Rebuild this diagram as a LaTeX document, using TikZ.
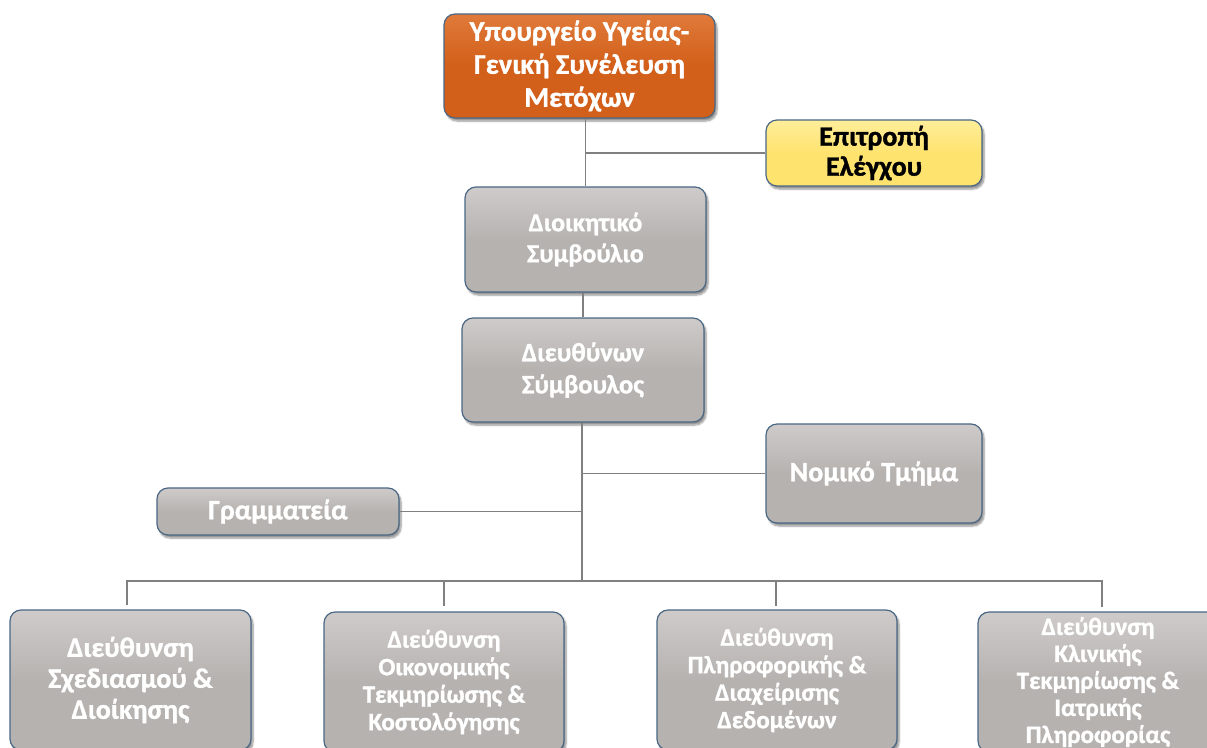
\documentclass[tikz,border=0pt]{standalone}
\usepackage{fontspec}
\setmainfont{Carlito}[BoldFeatures={FakeBold=1.2}]
\usetikzlibrary{shadows.blur}
\definecolor{orangeF}{HTML}{D2601A}
\definecolor{orangeT}{HTML}{E07A3A}
\definecolor{yellowF}{HTML}{FFE36F}
\definecolor{yellowT}{HTML}{FFEE9A}
\definecolor{grayF}{HTML}{B6B2B0}
\definecolor{grayT}{HTML}{CFCBCA}
\definecolor{edgeC}{HTML}{4A6784}
\definecolor{connC}{HTML}{808080}
\tikzset{
  box/.style={draw=edgeC, line width=1.2pt, rounded corners=11pt, align=center,
    text=white, inner sep=2pt,
    blur shadow={shadow xshift=2pt, shadow yshift=-3pt, shadow blur steps=6, shadow opacity=45}},
  graybox/.style={box, top color=grayT, bottom color=grayF, middle color=grayF},
  orangebox/.style={box, top color=orangeT, bottom color=orangeF, middle color=orangeF},
  yellowbox/.style={box, top color=yellowT, bottom color=yellowF, middle color=yellowF, text=black},
  conn/.style={draw=connC, line width=1.4pt},
  fs/.style 2 args={font=\bfseries\fontsize{#1}{#2}\selectfont},
}
\begin{document}
\begin{tikzpicture}[x=1pt,y=-1pt]
\useasboundingbox (0,0) rectangle (1207,747);
\node[orangebox, fs={28.5}{33}, minimum width=271pt, minimum height=104pt] (top) at (579.5,66)
  {Υπουργείο Υγείας-\\Γενική Συνέλευση\\Μετόχων};
\node[yellowbox, fs={28}{30}, minimum width=216pt, minimum height=66pt] (epit) at (874,153)
  {Επιτροπή\\Ελέγχου};
\node[graybox, fs={26}{31}, minimum width=241pt, minimum height=105pt] (dioik) at (585.5,239.5)
  {Διοικητικό\\Συμβούλιο};
\node[graybox, fs={26.5}{32}, minimum width=242pt, minimum height=104pt] (dieuth) at (583,370)
  {Διευθύνων\\Σύμβουλος};
\node[graybox, fs={28}{30}, minimum width=216pt, minimum height=99pt] (nomiko) at (874,473.5)
  {Νομικό Τμήμα};
\node[graybox, fs={28}{30}, minimum width=242pt, minimum height=47pt] (gramm) at (278,511.5)
  {Γραμματεία};
\node[graybox, fs={28}{31}, minimum width=241pt, minimum height=140pt] (b1) at (130.5,680)
  {Διεύθυνση\\Σχεδιασμού \&\\Διοίκησης};
\node[graybox, fs={25}{27.5}, minimum width=240pt, minimum height=140pt] (b2) at (444,682)
  {Διεύθυνση\\Οικονομικής\\Τεκμηρίωσης \&\\Κοστολόγησης};
\node[graybox, fs={25}{27.5}, minimum width=240pt, minimum height=140pt] (b3) at (777,680)
  {Διεύθυνση\\Πληροφορικής \&\\Διαχείρισης\\Δεδομένων};
\node[graybox, fs={25}{27}, minimum width=240pt, minimum height=140pt] (b4) at (1098,682)
  {Διεύθυνση\\Κλινικής\\Τεκμηρίωσης \&\\Ιατρικής\\Πληροφορίας};

\coordinate (bus) at (582,581);
\coordinate (d1) at (127,605);
\coordinate (d2) at (444,606);
\coordinate (d3) at (776,606);
\coordinate (d4) at (1102,607);

\draw[conn] (dioik.north |- top.south) -- (dioik.north);
\draw[conn] (epit.west) -- (epit.west -| dioik.north);
\draw[conn] (dioik.south -| dieuth.north) -- (dieuth.north);
\draw[conn] (dieuth.south -| bus) -- (bus);
\draw[conn] (nomiko.west) -- (nomiko.west -| bus);
\draw[conn] (gramm.east) -- (gramm.east -| bus);
\draw[conn] (d1) -- (d1 |- bus) -- (d4 |- bus) -- (d4);
\draw[conn] (d2) -- (d2 |- bus);
\draw[conn] (d3) -- (d3 |- bus);
\end{tikzpicture}
\end{document}
